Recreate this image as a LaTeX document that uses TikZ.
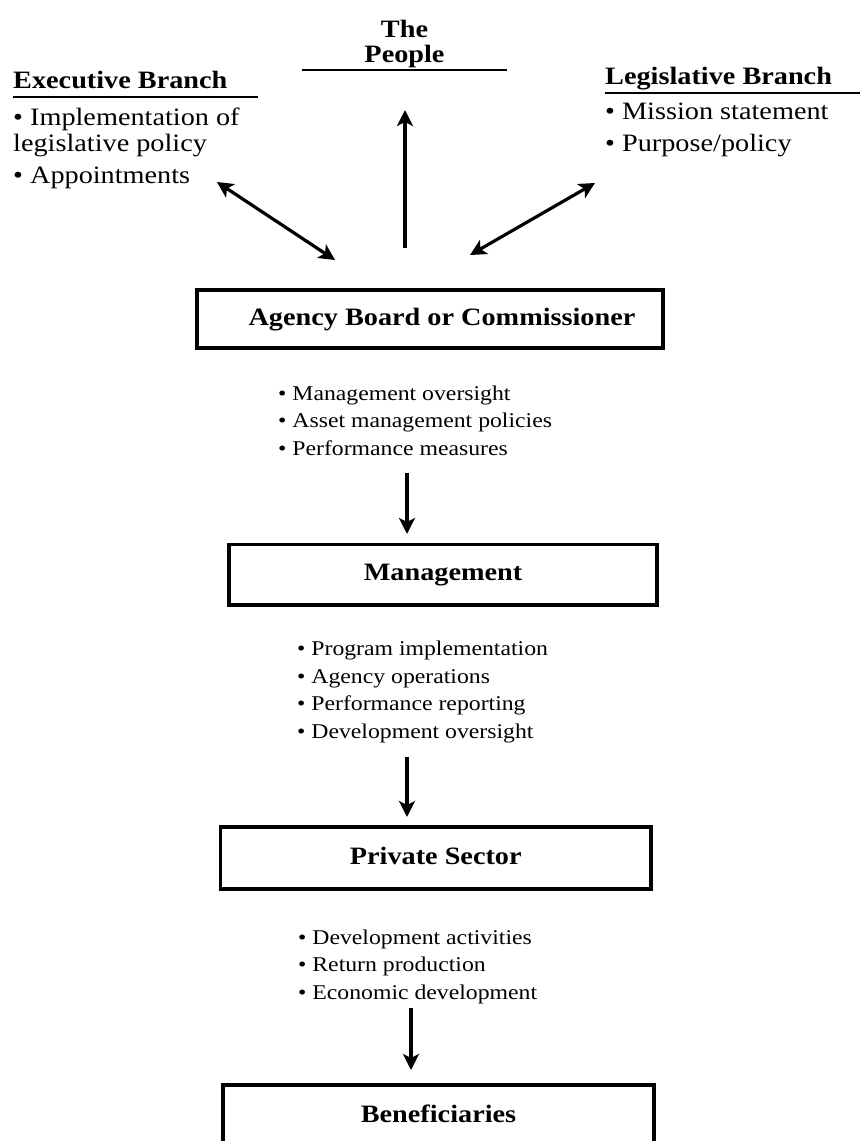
\documentclass[tikz,border=0pt]{standalone}
\usepackage{fontspec}
\setmainfont{Liberation Serif}[FakeStretch=1.13]
\usetikzlibrary{arrows.meta}
\begin{document}
\begin{tikzpicture}[x=1pt,y=-1pt,
  heading/.style={font=\fontsize{25}{25}\selectfont\bfseries, inner sep=0pt},
  toptext/.style={font=\fontsize{25}{26}\selectfont, inner sep=0pt, anchor=base west},
  itemtext/.style={font=\fontsize{21}{27.5}\selectfont, inner sep=0pt, anchor=base west},
  stage/.style={draw, line width=3.8pt, font=\fontsize{25}{25}\selectfont\bfseries,
                text height=17pt, text depth=5pt, inner sep=0pt},
  rule/.style={line width=2.4pt},
  flow/.style={line width=3.2pt, -{Stealth[length=16pt,width=16pt,inset=4pt]}},
  twoway/.style={line width=3.2pt,
                 {Stealth[length=16pt,width=16pt,inset=4pt]}-{Stealth[length=16pt,width=16pt,inset=4pt]}},
]
\fill[white] (0,0) rectangle (860,1141);
\useasboundingbox (0,0) rectangle (860,1141);

% --- top row: the people and the two branches ---
\node[heading, align=center, anchor=north] (people) at (404.5,19.7) {The\\People};
\draw[rule] (302,70) -- (507,70);

\node[heading, anchor=base west] (exec) at (13,88.3) {Executive Branch};
\draw[rule] (13,97) -- (258,97);
\node[toptext] (exec1)  at (13,125) {• Implementation of};
\node[toptext] (exec1b) at (13,151) {legislative policy};
\node[toptext] (exec2)  at (13,183) {• Appointments};

\node[heading, anchor=base west] (legis) at (605,84) {Legislative Branch};
\draw[rule] (605,93) -- (860,93);
\node[toptext] (legis1) at (605,119.5) {• Mission statement};
\node[toptext] (legis2) at (605,151.5) {• Purpose/policy};

% --- chain of stages ---
\node[stage, minimum width=466pt, minimum height=58pt] (agency) at (430,319) {};
\node[font=\fontsize{25}{25}\selectfont\bfseries, text height=17pt, text depth=5pt,
      inner sep=0pt] (agencyLabel) at (442,319) {Agency Board or Commissioner};
\node[itemtext] (ag1) at (278,400)   {• Management oversight};
\node[itemtext] (ag2) at (278,427.5) {• Asset management policies};
\node[itemtext] (ag3) at (278,455)   {• Performance measures};

\node[stage, minimum width=428pt, minimum height=60.5pt] (mgmt) at (443,574.75)
  {Management};
\node[itemtext] (mg1) at (297,655.5) {• Program implementation};
\node[itemtext] (mg2) at (297,683)   {• Agency operations};
\node[itemtext] (mg3) at (297,710.5) {• Performance reporting};
\node[itemtext] (mg4) at (297,738)   {• Development oversight};

\node[stage, minimum width=430.5pt, minimum height=62pt] (private) at (435.75,858)
  {Private Sector};
\node[itemtext] (pr1) at (298,944)   {• Development activities};
\node[itemtext] (pr2) at (298,971.5) {• Return production};
\node[itemtext] (pr3) at (298,999)   {• Economic development};

\node[stage, minimum width=431pt, minimum height=62pt] (benef) at (438.5,1116)
  {Beneficiaries};

% --- connector end points ---
\coordinate (execEnd)   at (217,182);
\coordinate (agencyNW)  at (335,260);
\coordinate (peopleEnd) at (405,110);
\coordinate (agencyN)   at (405,248);
\coordinate (legisEnd)  at (595,183);
\coordinate (agencyNE)  at (470,255);
\coordinate (agOut)     at (407,473);
\coordinate (mgIn)      at (407,534);
\coordinate (mgOut)     at (407,757);
\coordinate (prIn)      at (407,817);
\coordinate (prOut)     at (411,1008);
\coordinate (bnIn)      at (411,1070);

% --- connectors ---
\draw[twoway] (execEnd) -- (agencyNW);
\draw[flow]   (agencyN) -- (peopleEnd);
\draw[twoway] (agencyNE) -- (legisEnd);
\draw[flow]   (agOut) -- (mgIn);
\draw[flow]   (mgOut) -- (prIn);
\draw[flow]   (prOut) -- (bnIn);
\end{tikzpicture}
\end{document}
